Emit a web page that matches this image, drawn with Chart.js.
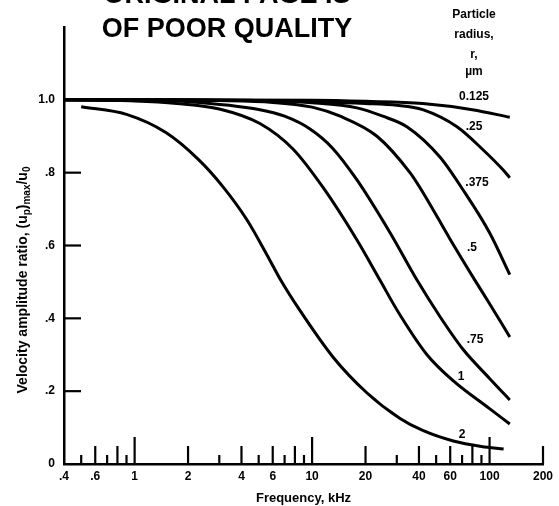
<!DOCTYPE html>
<html><head><meta charset="utf-8">
<script src="https://cdn.jsdelivr.net/npm/chart.js@4.4.0/dist/chart.umd.min.js"></script>
<style>html,body{margin:0;padding:0;background:#fff;}canvas{display:block;}</style>
</head><body>
<canvas id="c" width="559" height="506"></canvas>
<script>
// ---- data ----
const radiusLabels = ['0.125', '.25', '.375', '.5', '.75', '1', '2'];

const freq_r0125  = [0.4, 1, 10, 20, 42, 80, 130];
const ratio_r0125 = [1.0, 1.0, 0.999, 0.996, 0.99, 0.973, 0.952];

const freq_r025  = [0.4, 1, 5, 10, 20, 30, 42, 65.5, 91.8, 119, 130];
const ratio_r025 = [1.0, 1.0, 0.998, 0.995, 0.99, 0.985, 0.973, 0.926, 0.863, 0.808, 0.786];

const freq_r0375  = [0.4, 1, 5, 10, 17.9, 25, 34.2, 52.5, 70.8, 100, 130];
const ratio_r0375 = [1.0, 1.0, 0.998, 0.992, 0.978, 0.955, 0.926, 0.843, 0.753, 0.635, 0.52];

const freq_r05  = [0.4, 1, 3, 6, 10, 14.4, 23.2, 35.6, 42.2, 59.8, 82.6, 100, 130];
const ratio_r05 = [1.0, 1.0, 0.998, 0.993, 0.98, 0.955, 0.9, 0.8, 0.745, 0.618, 0.505, 0.44, 0.349];

const freq_r075  = [0.4, 1, 2, 5.08, 7, 9.73, 13, 17.9, 27.5, 39, 52.5, 70.8, 100, 130];
const ratio_r075 = [1.0, 0.999, 0.995, 0.973, 0.955, 0.92, 0.868, 0.78, 0.635, 0.505, 0.405, 0.315, 0.235, 0.176];

const freq_r1  = [0.4, 1, 1.73, 3, 5.08, 7.8, 11.5, 17.9, 24.1, 31.3, 44.4, 62.5, 100, 130];
const ratio_r1 = [1.0, 0.997, 0.99, 0.975, 0.935, 0.865, 0.76, 0.615, 0.505, 0.409, 0.30, 0.228, 0.152, 0.11];

const freq_r2  = [0.5, 0.9, 1.5, 2.3, 3.15, 4.3, 5.6, 6.6, 8.5, 13.1, 20.4, 31.3, 42, 62.5, 90, 120];
const ratio_r2 = [0.981, 0.96, 0.91, 0.835, 0.761, 0.67, 0.572, 0.508, 0.423, 0.294, 0.195, 0.125, 0.092, 0.063, 0.048, 0.041];

const xTickValues = [0.4, 0.6, 1, 2, 4, 6, 10, 20, 40, 60, 100, 200];
const xTickLabels = ['.4', '.6', '1', '2', '4', '6', '10', '20', '40', '60', '100', '200'];
const xTicksLong   = [1, 10, 100];
const xTicksMedium = [0.6, 0.8, 2, 4, 6, 8, 20, 40, 60, 80, 200];
const xTicksShort  = [0.5, 0.7, 0.9, 3, 5, 7, 9, 30, 50, 70, 90];
const yTickValues = [0, 0.2, 0.4, 0.6, 0.8, 1.0];
const yTickLabels = ['0', '.2', '.4', '.6', '.8', '1.0'];

const series = [
  [freq_r0125, ratio_r0125], [freq_r025, ratio_r025], [freq_r0375, ratio_r0375],
  [freq_r05, ratio_r05], [freq_r075, ratio_r075], [freq_r1, ratio_r1], [freq_r2, ratio_r2]
];

// ---- drawing ----
const FAM = '"Liberation Sans", Arial, sans-serif';

const decor = {
  id: 'decor',
  afterDraw(chart) {
    const ctx = chart.ctx, xs = chart.scales.x, ys = chart.scales.y;
    const y0 = ys.getPixelForValue(0);
    const x0 = xs.getPixelForValue(0.4);
    ctx.save();
    ctx.strokeStyle = '#000'; ctx.lineWidth = 2.2;
    const drawX = (vals, len) => vals.forEach(v => {
      const px = xs.getPixelForValue(v);
      ctx.beginPath(); ctx.moveTo(px, y0); ctx.lineTo(px, y0 - len); ctx.stroke();
    });
    drawX(xTicksLong, 27); drawX(xTicksMedium, 18); drawX(xTicksShort, 9);
    yTickValues.slice(1).forEach(v => {
      const py = ys.getPixelForValue(v);
      ctx.beginPath(); ctx.moveTo(x0, py); ctx.lineTo(x0 + 17, py); ctx.stroke();
    });

    ctx.fillStyle = '#000';
    ctx.textAlign = 'center';
    ctx.textBaseline = 'alphabetic';
    ctx.font = 'bold 27px ' + FAM;
    ctx.fillText('ORIGINAL PAGE IS', 227, 3);
    ctx.fillText('OF POOR QUALITY', 227, 37);

    ctx.textBaseline = 'middle';
    ctx.font = 'bold 12px ' + FAM;
    ctx.fillText('Particle', 474, 15);
    ctx.fillText('radius,', 474, 35);
    ctx.fillText('r,', 474, 55);
    ctx.fillText('\u00b5m', 474, 72);

    ctx.font = 'bold 12px ' + FAM;
    const labelPos = [[474, 97], [474, 127], [477, 183], [472, 248], [475, 340], [461, 377], [462, 435]];
    radiusLabels.forEach((t, i) => ctx.fillText(t, labelPos[i][0], labelPos[i][1]));

    // y axis title with subscripts
    ctx.translate(22, 280);
    ctx.rotate(-Math.PI / 2);
    const big = 'bold 14px ' + FAM, small = 'bold 10px ' + FAM;
    const parts = [['Velocity amplitude ratio, (u', big, 0], ['p', small, 3], [')', big, 0],
                   ['max', small, 3], ['/u', big, 0], ['0', small, 3]];
    let total = 0;
    parts.forEach(p => { ctx.font = p[1]; total += ctx.measureText(p[0]).width; });
    let cx = -total / 2;
    ctx.textAlign = 'left'; ctx.textBaseline = 'alphabetic';
    parts.forEach(p => { ctx.font = p[1]; ctx.fillText(p[0], cx, 5 + p[2]); cx += ctx.measureText(p[0]).width; });
    ctx.restore();
  }
};

const tickFont = { family: FAM, size: 12, weight: 'bold' };

new Chart(document.getElementById('c'), {
  type: 'scatter',
  data: {
    datasets: series.map((s, k) => ({
      label: radiusLabels[k],
      data: s[0].map((f, i) => ({ x: f, y: s[1][i] })),
      showLine: true, borderColor: '#000', borderWidth: 3, pointRadius: 0,
      fill: false, cubicInterpolationMode: 'monotone'
    }))
  },
  options: {
    responsive: false, animation: false, events: [],
    layout: { padding: { top: 27, right: 16, left: 0, bottom: 0 } },
    plugins: { legend: { display: false }, tooltip: { enabled: false } },
    scales: {
      x: {
        type: 'logarithmic', position: 'bottom', min: 0.4, max: 200,
        grid: { display: false, drawTicks: false },
        border: { display: true, color: '#000', width: 2.5 },
        afterBuildTicks: s => { s.ticks = xTickValues.map(v => ({ value: v })); },
        ticks: {
          autoSkip: false, maxRotation: 0, minRotation: 0, padding: 5, color: '#000', font: tickFont,
          callback: v => { const i = xTickValues.indexOf(v); return i >= 0 ? xTickLabels[i] : ''; }
        },
        title: { display: true, text: 'Frequency, kHz', color: '#000',
                 font: { family: FAM, size: 13, weight: 'bold' }, padding: { top: 0, bottom: 0 } },
        afterFit: s => { s.height = 42; s.paddingLeft = 0; s.paddingRight = 0; }
      },
      y: {
        min: 0, max: 1.2,
        grid: { display: false, drawTicks: false },
        border: { display: true, color: '#000', width: 2.5 },
        afterBuildTicks: s => { s.ticks = yTickValues.map(v => ({ value: v })); },
        ticks: {
          padding: 9, color: '#000', font: tickFont,
          callback: v => { const i = yTickValues.indexOf(v); return i >= 0 ? yTickLabels[i] : ''; }
        },
        afterFit: s => { s.width = 64; s.paddingTop = 0; s.paddingBottom = 0; }
      }
    }
  },
  plugins: [decor]
});
</script>
</body></html>
